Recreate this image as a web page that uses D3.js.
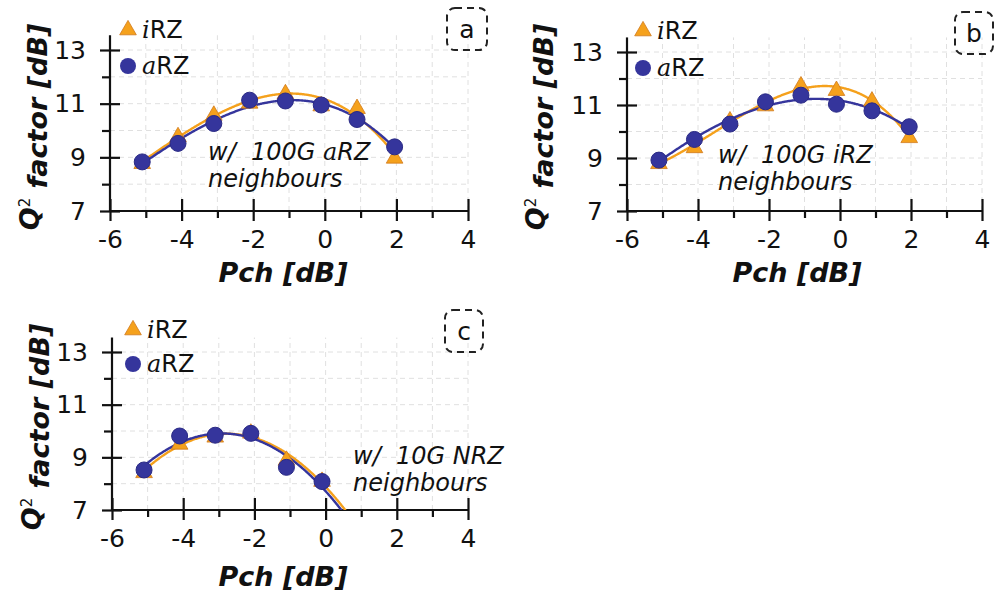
<!DOCTYPE html>
<html>
<head>
<meta charset="utf-8">
<script src="https://cdn.jsdelivr.net/npm/d3@7"></script>
<style>
  body { margin: 0; background: #fff; }
  svg { display: block; }
  text { font-family: "DejaVu Sans", sans-serif; fill: #111; }
</style>
</head>
<body>
<div id="chart"></div>
<script>
// ---- data ----
const pchAB = [-5.1, -4.1, -3.1, -2.1, -1.1, -0.1, 0.9, 1.95];
const pchC = [-5.1, -4.1, -3.1, -2.1, -1.1, -0.1];

const aIrz = [8.8, 9.8, 10.6, 11.05, 11.4, 10.95, 10.85, 9.0];
const aArz = [8.83, 9.52, 10.26, 11.13, 11.1, 10.95, 10.41, 9.39];

const bIrz = [8.82, 9.42, 10.43, 11.0, 11.75, 11.58, 11.18, 9.8];
const bArz = [8.92, 9.7, 10.28, 11.12, 11.37, 11.03, 10.78, 10.18];

const cIrz = [8.45, 9.53, 9.8, 9.95, 8.92, 8.12];
const cArz = [8.52, 9.81, 9.84, 9.91, 8.62, 8.08];

const xMajor = [-6, -4, -2, 0, 2, 4];
const xMinor = [-5, -3, -1, 1, 3];
const yMajor = [7, 9, 11, 13];
const yMinor = [8, 10, 12];

const orange = "#f5a11c", blue = "#35359c";

// least-squares polynomial trend line (like a spreadsheet trendline)
function polyfit(xs, ys, deg) {
  const n = deg + 1;
  const A = d3.range(n).map(() => new Array(n + 1).fill(0));
  xs.forEach((x, k) => {
    for (let i = 0; i < n; i++) {
      for (let j = 0; j < n; j++) A[i][j] += Math.pow(x, i + j);
      A[i][n] += ys[k] * Math.pow(x, i);
    }
  });
  for (let i = 0; i < n; i++) {
    let p = i;
    for (let r = i + 1; r < n; r++) if (Math.abs(A[r][i]) > Math.abs(A[p][i])) p = r;
    [A[i], A[p]] = [A[p], A[i]];
    for (let r = 0; r < n; r++) {
      if (r === i) continue;
      const f = A[r][i] / A[i][i];
      for (let c = i; c <= n; c++) A[r][c] -= f * A[i][c];
    }
  }
  const coef = A.map((row, i) => row[n] / row[i]);
  return x => coef.reduce((s, c, i) => s + c * Math.pow(x, i), 0);
}

const panels = [
  {key: "a", pch: pchAB, irz: aIrz, arz: aArz, xr: [110, 468], yr: [211, 50], fitEnd: 1.95, deg: 3,
   legend: [128, 30, 66], box: [447, 8, 40, 42],
   note: ["100G ", "a", "RZ"], noteXY: [208, 160],
   ytitle: [30, 127], xtitle: [283, 282]},
  {key: "b", pch: pchAB, irz: bIrz, arz: bArz, xr: [627, 982], yr: [211, 52], fitEnd: 1.95, deg: 3,
   legend: [643, 31, 68], box: [955, 12, 38, 42],
   note: ["100G ", "i", "RZ"], noteXY: [718, 163],
   ytitle: [536, 127], xtitle: [797, 282]},
  {key: "c", pch: pchC, irz: cIrz, arz: cArz, xr: [112, 468], yr: [510, 352], fitEnd: 1.6, deg: 2,
   legend: [133, 330, 364], box: [445, 310, 38, 42],
   note: ["10G NRZ", "", ""], noteXY: [353, 464],
   ytitle: [32, 427], xtitle: [283, 586]}
];

const svg = d3.select("#chart").append("svg")
  .attr("width", 995).attr("height", 593);

panels.forEach(p => {
  const x = d3.scaleLinear().domain([-6, 4]).range(p.xr);
  const y = d3.scaleLinear().domain([7, 13]).range(p.yr);
  const g = svg.append("g");
  const yTop = y(13.55);

  // dashed grid
  g.append("g").selectAll("line").data(d3.range(-5, 5)).join("line")
    .attr("x1", d => x(d)).attr("x2", d => x(d))
    .attr("y1", y(7)).attr("y2", yTop)
    .attr("stroke", "#e0e0e0").attr("stroke-dasharray", "5,4");
  g.append("g").selectAll("line").data(d3.range(8, 14)).join("line")
    .attr("x1", x(-6)).attr("x2", x(4))
    .attr("y1", d => y(d)).attr("y2", d => y(d))
    .attr("stroke", "#e0e0e0").attr("stroke-dasharray", "5,4");

  // axes
  const fmt = d => String(d);
  const xAxis = g.append("g").attr("transform", `translate(0,${y(7)})`)
    .call(d3.axisBottom(x).tickValues(xMajor).tickSize(10).tickPadding(9).tickFormat(fmt));
  xAxis.selectAll(".tick line").attr("y1", -12);
  g.append("g").attr("transform", `translate(0,${y(7)})`)
    .call(d3.axisBottom(x).tickValues(xMinor).tickSize(7).tickFormat(""))
    .select(".domain").remove();

  const yAxis = g.append("g").attr("transform", `translate(${x(-6)},0)`)
    .call(d3.axisLeft(y).tickValues(yMajor).tickSize(10).tickPadding(14).tickFormat(fmt));
  yAxis.selectAll(".tick line").attr("x1", 10);
  g.append("g").attr("transform", `translate(${x(-6)},0)`)
    .call(d3.axisLeft(y).tickValues(yMinor).tickSize(8).tickFormat(""))
    .select(".domain").remove();

  xAxis.select(".domain").attr("d", `M${x(-6)},0H${x(4)}`);
  yAxis.select(".domain").attr("d", `M0,${y(7)}V${yTop}`);
  g.selectAll(".domain, .tick line").attr("stroke", "#111").attr("stroke-width", 2.2);
  g.selectAll(".tick text").style("font-size", "25px").attr("fill", "#111");

  // trend lines, clipped at the bottom of the plot
  const clipId = "clip-" + p.key;
  g.append("clipPath").attr("id", clipId).append("rect")
    .attr("x", x(-6)).attr("y", 0).attr("width", x(4) - x(-6)).attr("height", y(7));
  const line = d3.line().x(d => x(d[0])).y(d => y(d[1]));
  const xs = d3.range(p.pch[0], p.fitEnd + 0.001, 0.02);
  [[p.irz, orange], [p.arz, blue]].forEach(([vals, col]) => {
    const f = polyfit(p.pch, vals, p.deg);
    g.append("path").datum(xs.map(v => [v, f(v)]))
      .attr("clip-path", `url(#${clipId})`)
      .attr("fill", "none").attr("stroke", col).attr("stroke-width", 2.4)
      .attr("d", line);
  });

  // markers
  const tri = d3.symbol().type(d3.symbolTriangle).size(120);
  g.append("g").selectAll("path").data(p.pch.map((v, i) => [v, p.irz[i]])).join("path")
    .attr("transform", d => `translate(${x(d[0])},${y(d[1]) + 1})`)
    .attr("d", tri).attr("fill", orange).attr("stroke", "#d0781a").attr("stroke-width", 0.8);
  g.append("g").selectAll("circle").data(p.pch.map((v, i) => [v, p.arz[i]])).join("circle")
    .attr("cx", d => x(d[0])).attr("cy", d => y(d[1])).attr("r", 8)
    .attr("fill", blue).attr("stroke", "#2a2a85").attr("stroke-width", 1);

  // legend
  const [lx, ly1, ly2] = p.legend;
  g.append("path").attr("transform", `translate(${lx},${ly1})`).attr("d", tri)
    .attr("fill", orange).attr("stroke", "#d0781a").attr("stroke-width", 0.8);
  g.append("circle").attr("cx", lx).attr("cy", ly2).attr("r", 8).attr("fill", blue);
  [[ly1, "i"], [ly2, "a"]].forEach(([ly, ch]) => {
    const t = g.append("text").attr("x", lx + 14).attr("y", ly + 8).style("font-size", "24px");
    t.append("tspan").text(ch).style("font-family", "'DejaVu Serif', serif").style("font-style", "italic");
    t.append("tspan").text("RZ");
  });

  // panel label box
  const [bx, by, bw, bh] = p.box;
  g.append("rect").attr("x", bx).attr("y", by).attr("width", bw).attr("height", bh)
    .attr("rx", 8).attr("fill", "none").attr("stroke", "#222")
    .attr("stroke-width", 2).attr("stroke-dasharray", "7,5");
  g.append("text").attr("x", bx + bw / 2).attr("y", by + bh / 2 + 9)
    .attr("text-anchor", "middle").style("font-size", "25px").text(p.key);

  // annotation
  const [nx, ny] = p.noteXY;
  const n1 = g.append("text").attr("x", nx).attr("y", ny)
    .style("font-size", "24px").style("font-style", "italic").attr("xml:space", "preserve");
  n1.append("tspan").text("w/  " + p.note[0]);
  if (p.note[1]) {
    n1.append("tspan").text(p.note[1])
      .style("font-family", p.note[1] === "a" ? "'DejaVu Serif', serif" : null);
    n1.append("tspan").text(p.note[2]);
  }
  g.append("text").attr("x", nx).attr("y", ny + 27)
    .style("font-size", "24px").style("font-style", "italic").text("neighbours");

  // axis titles
  g.append("text").attr("x", p.xtitle[0]).attr("y", p.xtitle[1])
    .attr("text-anchor", "middle").style("font-size", "27px")
    .style("font-weight", "bold").style("font-style", "italic").text("Pch [dB]");
  const yt = g.append("text")
    .attr("transform", `translate(${p.ytitle[0]},${p.ytitle[1]}) rotate(-90)`)
    .attr("text-anchor", "middle").attr("dy", "0.35em").style("font-size", "27px")
    .style("font-weight", "bold").style("font-style", "italic");
  yt.append("tspan").text("Q");
  yt.append("tspan").text("2").attr("dy", "-0.6em").style("font-size", "15px")
    .style("font-weight", "normal").style("font-style", "normal");
  yt.append("tspan").text(" factor [dB]").attr("dy", "0.6em");
});
</script>
</body>
</html>
